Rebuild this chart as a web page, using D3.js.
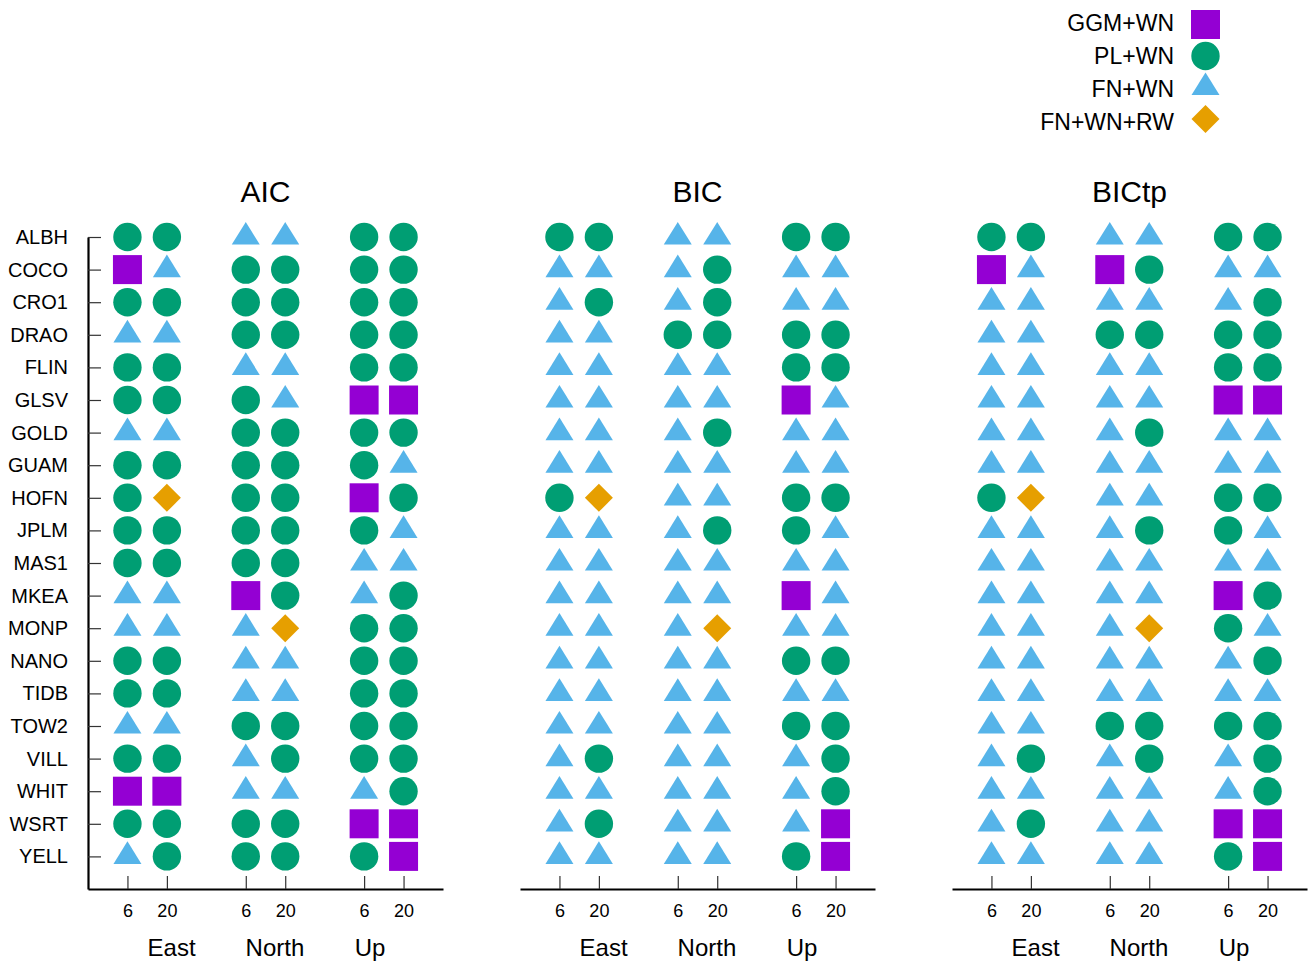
<!DOCTYPE html>
<html>
<head>
<meta charset="utf-8">
<script src="https://cdn.jsdelivr.net/npm/d3@7"></script>
<style>
  html, body { margin: 0; padding: 0; background: #fff; }
  svg { display: block; font-family: "Liberation Sans", Arial, Helvetica, sans-serif; }
</style>
</head>
<body>
<svg id="chart" width="1310" height="963"></svg>
<script>
// ---- data ----
const stations = ["ALBH","COCO","CRO1","DRAO","FLIN","GLSV","GOLD","GUAM","HOFN","JPLM",
                  "MAS1","MKEA","MONP","NANO","TIDB","TOW2","VILL","WHIT","WSRT","YELL"];
const criteria = ["AIC", "BIC", "BICtp"];
const components = ["East", "North", "Up"];
const windows = ["6", "20"];
const models = ["GGM+WN", "PL+WN", "FN+WN", "FN+WN+RW"];
const modelCodes = ["G", "P", "F", "R"];

// Selected noise model per station; columns: East 6, East 20, North 6, North 20, Up 6, Up 20
const aicChoice = ["PPFFPP","GFPPPP","PPPPPP","FFPPPP","PPFFPP","PPPFGG","FFPPPP","PPPPPF","PRPPGP","PPPPPF",
                   "PPPPFF","FFGPFP","FFFRPP","PPFFPP","PPFFPP","FFPPPP","PPFPPP","GGFFFP","PPPPGG","FPPPPG"];
const bicChoice = ["PPFFPP","FFFPFF","FPFPFF","FFPPPP","FFFFPP","FFFFGF","FFFPFF","FFFFFF","PRFFPP","FFFPPF",
                   "FFFFFF","FFFFGF","FFFRFF","FFFFPP","FFFFFF","FFFFPP","FPFFFP","FFFFFP","FPFFFG","FFFFPG"];
const bictpChoice = ["PPFFPP","GFGPFF","FFFFFP","FFPPPP","FFFFPP","FFFFGG","FFFPFF","FFFFFF","PRFFPP","FFFPPF",
                     "FFFFFF","FFFFGP","FFFRPF","FFFFFP","FFFFFF","FFPPPP","FPFPFP","FFFFFP","FPFFGG","FFFFPG"];
const choices = [aicChoice, bicChoice, bictpChoice];

// ---- layout & styles ----
const colors = { "GGM+WN": "#9400D3", "PL+WN": "#009E73", "FN+WN": "#56B4E9", "FN+WN+RW": "#E69F00" };
const panelLeft = [88, 520, 952];
const panelWidth = 355;
const plotTop = 237, plotBottom = 889;
const colSlots = [1, 2, 4, 5, 7, 8];        // x positions of the six columns
const groupLabelSlots = [2.12, 4.74, 7.15]; // x positions of component labels

const svg = d3.select("#chart");

const x = d3.scaleLinear().domain([0, 9]).range([0, panelWidth]);
const y = d3.scaleLinear().domain([0, stations.length]).range([plotBottom, plotTop]);
const stationY = i => y(stations.length - i);

function drawMarker(g, model, cx, cy) {
  const c = colors[model];
  if (model === "GGM+WN") {
    g.append("rect").attr("x", cx - 14.5).attr("y", cy - 14.5)
      .attr("width", 29).attr("height", 29).attr("fill", c);
  } else if (model === "PL+WN") {
    g.append("circle").attr("cx", cx).attr("cy", cy).attr("r", 14.2).attr("fill", c);
  } else if (model === "FN+WN") {
    g.append("path")
      .attr("d", `M${cx},${cy - 15.1} L${cx + 14},${cy + 7.6} L${cx - 14},${cy + 7.6} Z`)
      .attr("fill", c);
  } else {
    g.append("path")
      .attr("d", `M${cx},${cy - 14} L${cx + 14},${cy} L${cx},${cy + 14} L${cx - 14},${cy} Z`)
      .attr("fill", c);
  }
}

criteria.forEach((crit, p) => {
  const g = svg.append("g").attr("transform", `translate(${panelLeft[p]},0)`);

  // title
  g.append("text")
    .attr("x", panelWidth / 2).attr("y", 201.7)
    .attr("text-anchor", "middle")
    .attr("font-size", 30)
    .attr("fill", "#000")
    .text(crit);

  // bottom axis with window-length ticks
  const xAxis = d3.axisBottom(x)
    .tickValues(colSlots)
    .tickFormat((d, i) => windows[i % 2])
    .tickSizeInner(-13)
    .tickSizeOuter(0)
    .tickPadding(15);
  const ax = g.append("g").attr("transform", `translate(0,${plotBottom})`).call(xAxis);
  ax.select(".domain").attr("stroke", "#000").attr("stroke-width", 2.2);
  ax.selectAll(".tick line").attr("stroke", "#333").attr("stroke-width", 1.2);
  ax.selectAll(".tick text").attr("font-size", 18).attr("fill", "#000")
    .attr("font-family", "Liberation Sans, Arial, sans-serif");

  // left axis with station names (first panel only)
  if (p === 0) {
    const yAxis = d3.axisLeft(y)
      .tickValues(d3.range(1, stations.length + 1))
      .tickFormat(v => stations[stations.length - v])
      .tickSizeInner(-13)
      .tickSizeOuter(0)
      .tickPadding(20);
    const ay = g.append("g").call(yAxis);
    ay.select(".domain").attr("stroke", "#000").attr("stroke-width", 2.2);
    ay.selectAll(".tick line").attr("stroke", "#333").attr("stroke-width", 1.2);
    ay.selectAll(".tick text").attr("font-size", 20).attr("fill", "#000")
      .attr("font-family", "Liberation Sans, Arial, sans-serif");
  }

  // component labels
  g.selectAll("text.comp").data(components).join("text")
    .attr("class", "comp")
    .attr("x", (d, i) => x(groupLabelSlots[i]))
    .attr("y", 956)
    .attr("text-anchor", "middle")
    .attr("font-size", 24)
    .attr("fill", "#000")
    .text(d => d);

  // markers
  const mg = g.append("g");
  choices[p].forEach((row, si) => {
    row.split("").forEach((code, ci) => {
      const model = models[modelCodes.indexOf(code)];
      drawMarker(mg, model, x(colSlots[ci]), stationY(si));
    });
  });
});

// legend
const lg = svg.append("g");
models.forEach((m, i) => {
  lg.append("text")
    .attr("x", 1174).attr("y", 31 + i * 33)
    .attr("text-anchor", "end")
    .attr("font-size", 23)
    .attr("fill", "#000")
    .text(m);
  drawMarker(lg, m, 1205.5, 24.5 + i * 31.5);
});
</script>
</body>
</html>
